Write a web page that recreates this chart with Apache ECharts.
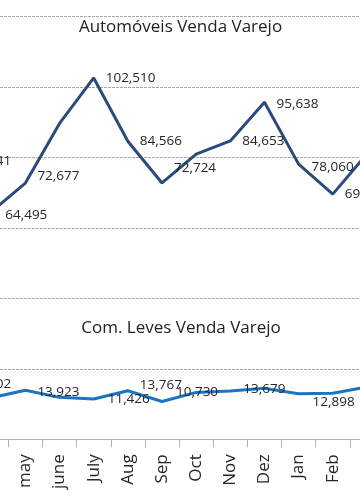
<!DOCTYPE html>
<html>
<head>
<meta charset="utf-8">
<script src="https://cdn.jsdelivr.net/npm/echarts@6/dist/echarts.min.js"></script>
<style>
html,body{margin:0;padding:0;background:#fff;overflow:hidden;width:360px;height:504px;}
#wrap{position:absolute;left:0;top:0;width:360px;height:504px;overflow:hidden;}
#chart{position:absolute;left:-60px;top:0;width:444px;height:504px;}
</style>
</head>
<body>
<div id="wrap"><div id="chart"></div></div>
<script>
// ---- data ----
var months = ['Mar', 'Apr', 'may', 'june', 'July', 'Aug', 'Sep', 'Oct', 'Nov', 'Dez', 'Jan', 'Feb', 'Mar'];
var automoveis = [79441, 64495, 72677, 89600, 102510, 84566, 72724, 80900, 84653, 95638, 78060, 69560, 80940];
var comLeves = [15302, 11770, 13923, 11900, 11426, 13767, 10730, 13300, 13679, 14450, 12898, 13050, 14840];
var titleTop = 'Automóveis Venda Varejo';
var titleBottom = 'Com. Leves Venda Varejo';

// ---- label layout (styling only) ----
var autoHidden = {3: true, 7: true};
var autoOffsets = {0: [0, 2], 1: [2, 3], 2: [0, -7], 6: [0, -15], 9: [0, 1.5], 10: [1, 3]};
var levesHidden = {1: true, 3: true, 7: true, 9: true, 11: true, 12: true};
var levesOffsets = {0: [0, -1.5], 2: [0, 1.5], 4: [2, 0], 5: [0, -6], 6: [2, -9], 8: [1, -2], 10: [2, 8.5]};

var fmt = function (v) { return v.toLocaleString('en-US'); };

function buildData(values, hidden, offsets) {
  return values.map(function (v, i) {
    return {
      value: v,
      label: {
        show: !hidden[i],
        offset: offsets[i] || [0, 0]
      }
    };
  });
}

var labelStyle = {
  show: true,
  position: 'right',
  distance: 11,
  fontFamily: 'Open Sans',
  fontSize: 13.5,
  color: '#262626',
  formatter: function (p) { return fmt(p.value); }
};

var SHIFT = 60; // chart canvas is shifted left by this amount
var chart = echarts.init(document.getElementById('chart'), null, {renderer: 'canvas'});
chart.setOption({
  animation: false,
  backgroundColor: '#ffffff',
  grid: {left: 0, right: 0, top: 16.3, bottom: 64.7, containLabel: false},
  xAxis: {
    type: 'category',
    data: months,
    boundaryGap: true,
    axisLine: {show: true, lineStyle: {color: '#B3B3B3', width: 1}},
    axisTick: {show: true, length: 8, alignWithLabel: false, lineStyle: {color: '#B3B3B3'}},
    axisLabel: {
      interval: 0,
      rotate: 90,
      margin: 15,
      fontFamily: 'Open Sans',
      fontSize: 17,
      color: '#262626'
    },
    splitLine: {show: false}
  },
  yAxis: {
    type: 'value',
    min: 0,
    max: 120000,
    interval: 20000,
    axisLine: {show: false},
    axisTick: {show: false},
    axisLabel: {show: false},
    splitLine: {show: true, lineStyle: {color: '#A8A8A8', type: [3, 1], width: 1}}
  },
  graphic: [
    {
      type: 'text',
      style: {text: titleTop, x: 180.5 + SHIFT, y: 27, textAlign: 'center', textVerticalAlign: 'middle',
        font: '17px "Open Sans"', fill: '#222'}
    },
    {
      type: 'text',
      style: {text: titleBottom, x: 181 + SHIFT, y: 328, textAlign: 'center', textVerticalAlign: 'middle',
        font: '17px "Open Sans"', fill: '#222'}
    }
  ],
  series: [
    {
      type: 'line',
      name: titleTop,
      data: buildData(automoveis, autoHidden, autoOffsets),
      symbol: 'circle',
      symbolSize: 2,
      showSymbol: true,
      lineStyle: {color: '#2A4B7C', width: 3},
      itemStyle: {color: '#2A4B7C'},
      label: labelStyle,
      z: 3
    },
    {
      type: 'line',
      name: titleBottom,
      data: buildData(comLeves, levesHidden, levesOffsets),
      symbol: 'circle',
      symbolSize: 2,
      showSymbol: true,
      lineStyle: {color: '#1A74C4', width: 3},
      itemStyle: {color: '#1A74C4'},
      label: labelStyle,
      z: 3
    }
  ]
});
</script>
</body>
</html>
